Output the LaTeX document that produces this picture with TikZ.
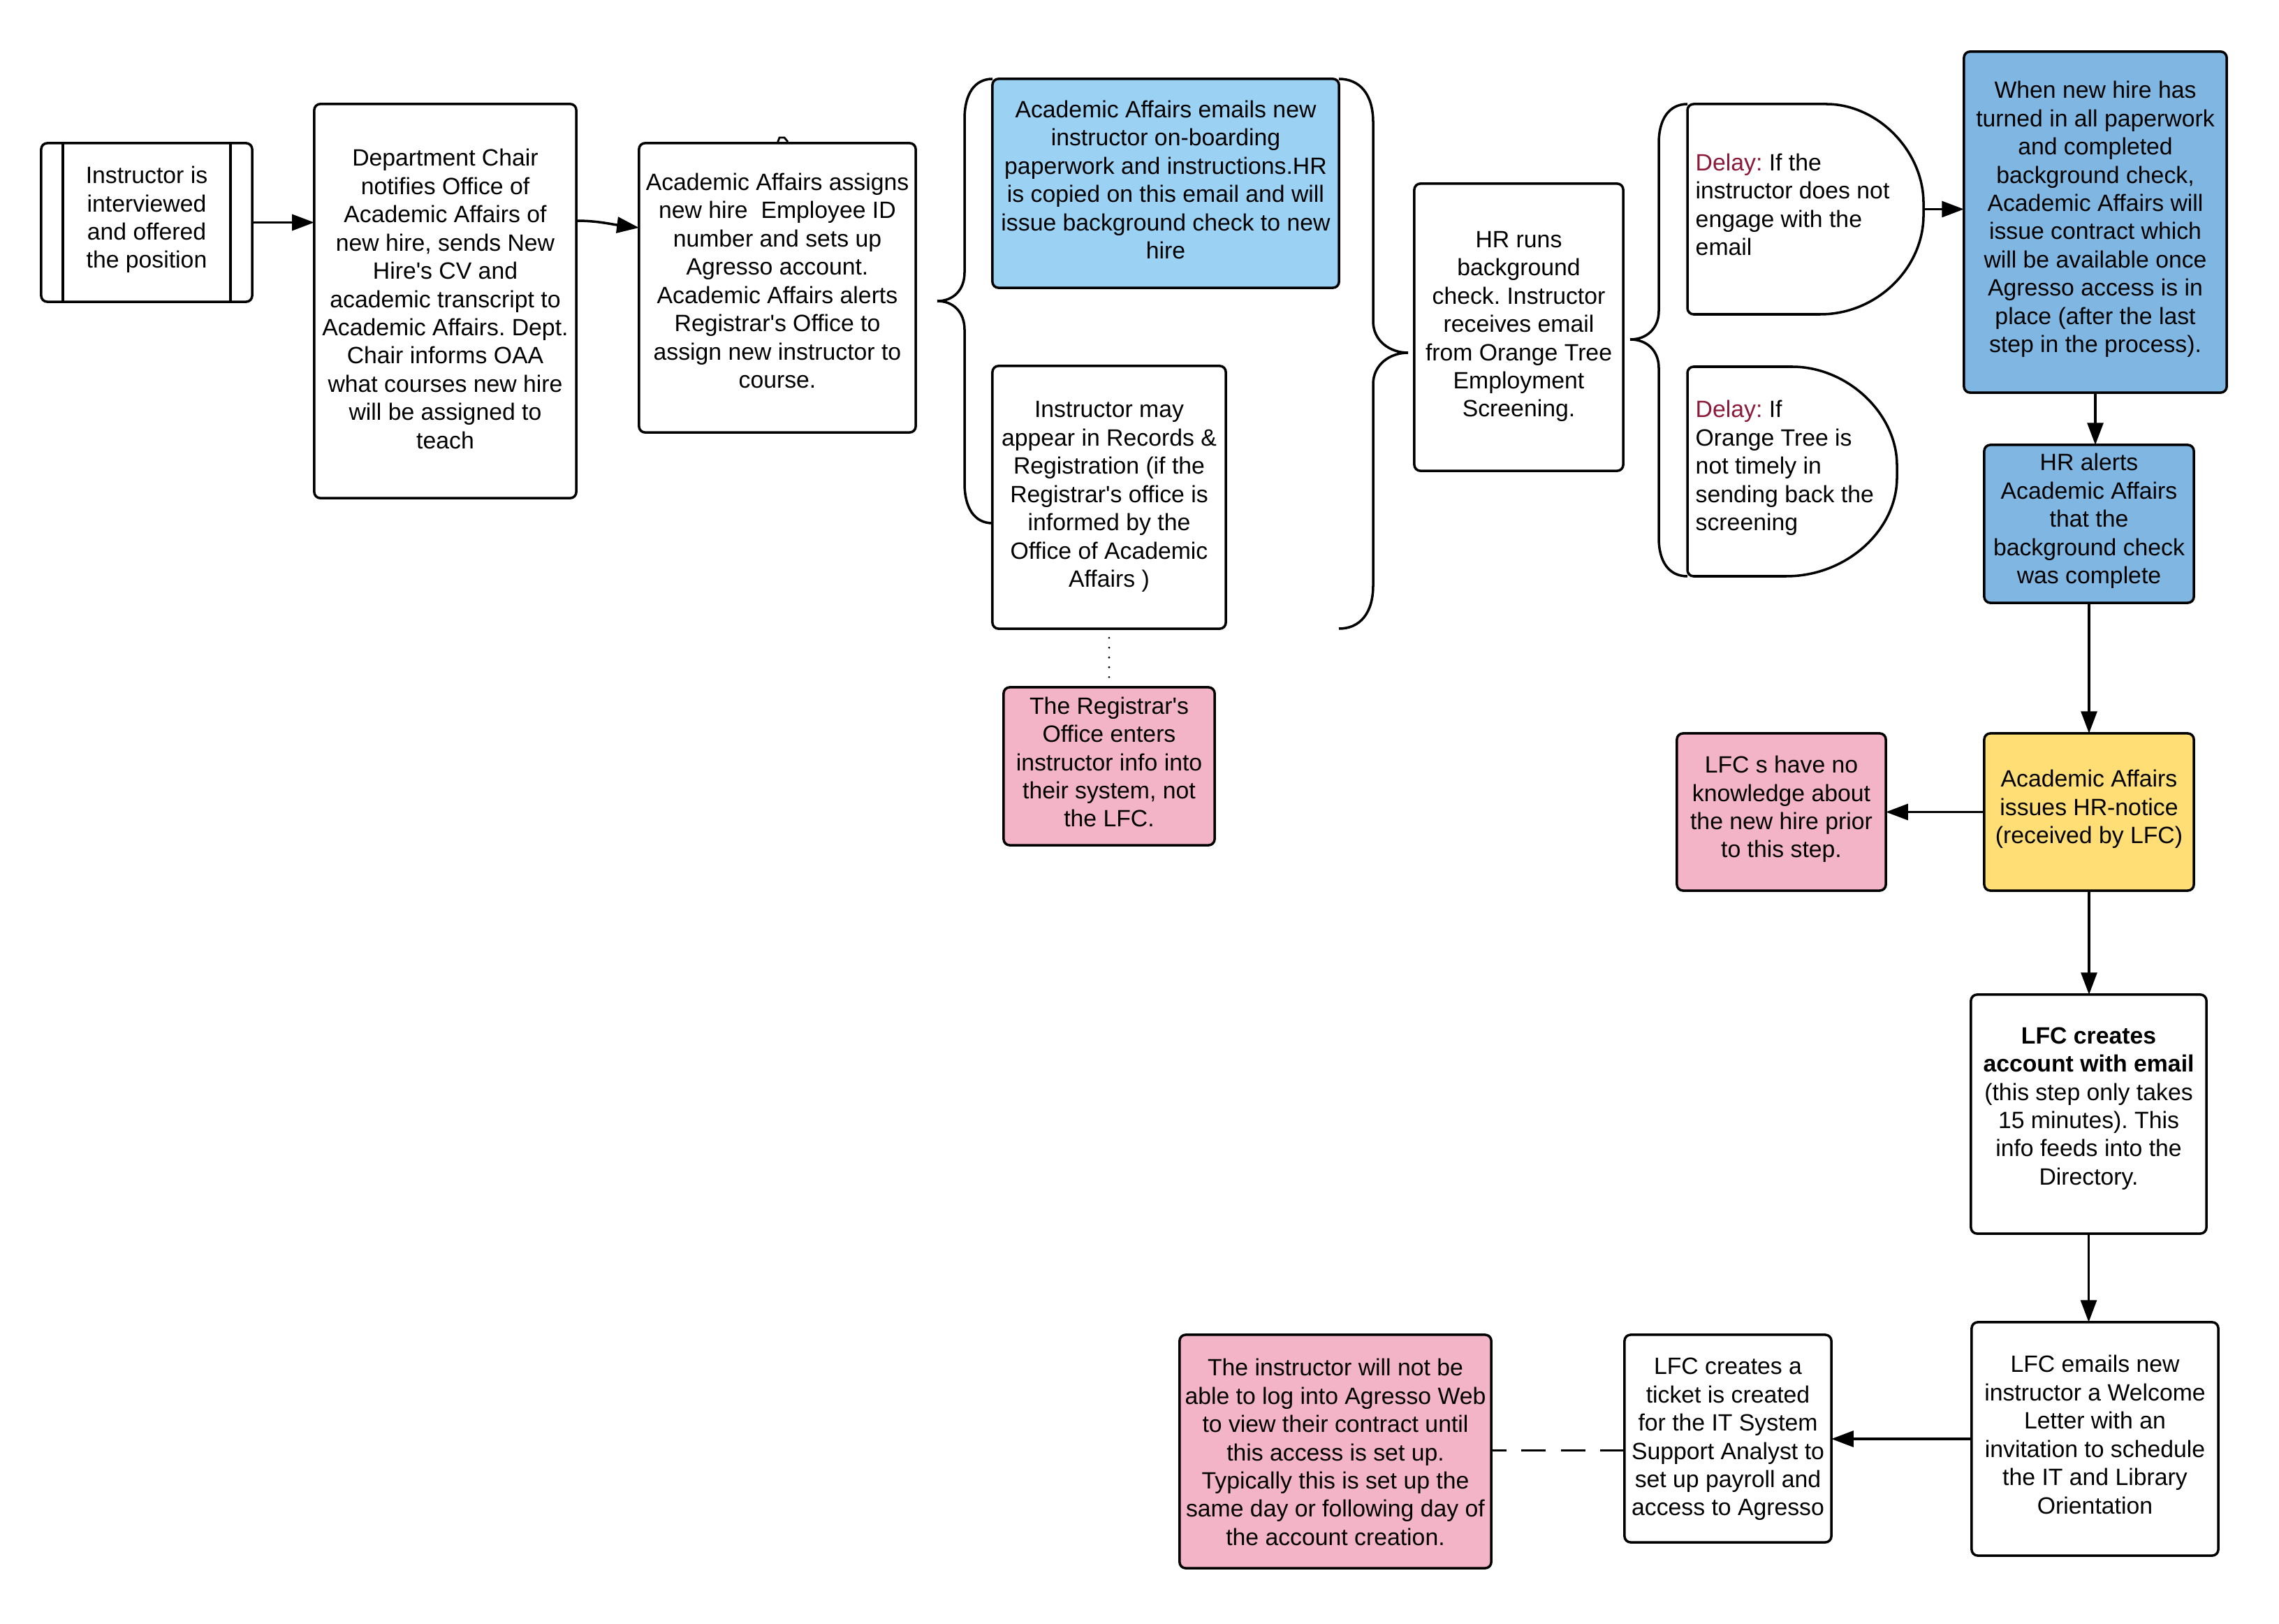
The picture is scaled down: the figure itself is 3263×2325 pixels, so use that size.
\documentclass[tikz,border=0pt]{standalone}
\usepackage{fontspec}
\setmainfont{Liberation Sans}
\usetikzlibrary{arrows.meta,calc}
\definecolor{lblue}{RGB}{155,209,243}
\definecolor{mblue}{RGB}{128,183,226}
\definecolor{pinkc}{RGB}{244,180,199}
\definecolor{yel}{RGB}{255,222,117}
\definecolor{delayc}{RGB}{139,25,56}
\newcommand\boxfont{\fontsize{9.6}{11.5}\selectfont\frenchspacing}
\newcommand\ap{\textquotesingle}
\begin{document}
\begin{tikzpicture}[x=0.01cm,y=-0.01cm,
  box/.style={draw,line width=1pt,rounded corners=2.5pt,inner sep=0pt,outer sep=0pt},
  tx/.style={align=center,inner sep=0pt,font=\boxfont},
  plain/.style={align=left,inner sep=0pt,font=\boxfont},
  arr/.style={line width=1pt,-{Triangle[length=9pt,width=6.5pt]}},
  brace/.style={line width=1pt},
  dshape/.style={draw,line width=1pt,rounded corners=2.5pt},
]
\useasboundingbox (0,0) rectangle (3263,2325);

% ---------- top row ----------
\node[box,minimum width=3.02cm,minimum height=2.27cm] (b1) at (210,318.5) {};
\node[tx] (t1) at ($(b1)+(0,-4)$) {Instructor is\\interviewed\\and offered\\the position};
\draw[line width=1pt] ($(b1.north west)+(31,0)$) -- ($(b1.south west)+(31,0)$);
\draw[line width=1pt] ($(b1.north east)+(-31,0)$) -- ($(b1.south east)+(-31,0)$);

\node[box,minimum width=3.75cm,minimum height=5.64cm] (b2) at (637.5,431) {};
\node[tx] (t2) at ($(b2)+(0,-3)$)
  {Department Chair\\notifies Office of\\Academic Affairs of\\new hire, sends New\\Hire\ap s CV and\\academic transcript to\\Academic Affairs. Dept.\\Chair informs OAA\\what courses new hire\\will be assigned to\\teach};

\node[box,minimum width=3.96cm,minimum height=4.14cm] (b3) at (1113,412) {};
\node[tx] (t3) at ($(b3)+(0,-10)$)
  {Academic Affairs assigns\\new hire\ \ Employee ID\\number and sets up\\Agresso account.\\Academic Affairs alerts\\Registrar\ap s Office to\\assign new instructor to\\course.};
\draw[line width=0.8pt] (1113,205) -- (1116,197) -- (1123,197) -- (1128,203);

\node[box,fill=lblue,minimum width=4.96cm,minimum height=2.99cm] (b4) at (1669,262.5) {};
\node[tx] (t4) at ($(b4)+(0,-5)$)
  {Academic Affairs emails new\\instructor on-boarding\\paperwork and instructions.HR\\is copied on this email and will\\issue background check to new\\hire};

\node[box,minimum width=3.34cm,minimum height=3.76cm] (b5) at (1588,712) {};
\node[tx] (t5) at ($(b5)+(0,-1)$)
  {Instructor may\\appear in Records \&\\Registration (if the\\Registrar\ap s office is\\informed by the\\Office of Academic\\Affairs )};

\node[box,fill=pinkc,minimum width=3.02cm,minimum height=2.26cm] (b7) at (1588,1097) {};
\node[tx] (t7) at ($(b7)+(0,-6)$)
  {The Registrar\ap s\\Office enters\\instructor info into\\their system, not\\the LFC.};

\node[box,minimum width=2.99cm,minimum height=4.11cm] (b6) at (2174.5,468.5) {};
\node[tx] (t6) at ($(b6)+(0,-1)$)
  {HR runs\\background\\check. Instructor\\receives email\\from Orange Tree\\Employment\\Screening.};

% braces
\draw[brace] (1421,113) .. controls (1395,113) and (1381,135) .. (1381,170) -- (1381,390)
  .. controls (1381,415) and (1365,431) .. (1342,431)
  .. controls (1365,431) and (1381,447) .. (1381,472) -- (1381,692)
  .. controls (1381,727) and (1395,749) .. (1421,749);
\draw[brace] (1917,113) .. controls (1947,113) and (1966,135) .. (1966,175) -- (1966,460)
  .. controls (1966,488) and (1990,505) .. (2016,505)
  .. controls (1990,505) and (1966,522) .. (1966,550) -- (1966,838)
  .. controls (1966,878) and (1947,900) .. (1917,900);
\draw[brace] (2416,149) .. controls (2390,149) and (2375,170) .. (2375,205) -- (2375,445)
  .. controls (2375,470) and (2358,486) .. (2334,486)
  .. controls (2358,486) and (2375,502) .. (2375,527) -- (2375,770)
  .. controls (2375,805) and (2390,825) .. (2416,825);

% delay shapes
\draw[dshape] (2606,450) -- (2416,450) -- (2416,149) -- (2606,149)
  .. controls (2688,149) and (2754,216) .. (2754,299.5)
  .. controls (2754,383) and (2688,450) .. (2606,450);
\node[plain,anchor=west] (d1) at (2427,293)
  {{\color{delayc}Delay:} If the\\instructor does not\\engage with the\\email};
\coordinate (d1e) at (2754,299.5);

\draw[dshape] (2557,825) -- (2416,825) -- (2416,525) -- (2557,525)
  .. controls (2645,525) and (2716,592) .. (2716,675)
  .. controls (2716,758) and (2645,825) .. (2557,825);
\node[plain,anchor=west] (d2) at (2427,670)
  {{\color{delayc}Delay:} If\\Orange Tree is\\not timely in\\sending back the\\screening};

\node[box,fill=mblue,minimum width=3.76cm,minimum height=4.88cm] (b8) at (3000,318) {};
\node[tx] (t8) at ($(b8)+(0,-4)$)
  {When new hire has\\turned in all paperwork\\and completed\\background check,\\Academic Affairs will\\issue contract which\\will be available once\\Agresso access is in\\place (after the last\\step in the process).};

\node[box,fill=mblue,minimum width=3.00cm,minimum height=2.26cm] (b9) at (2991,750) {};
\node[tx] (t9) at ($(b9)+(0,-4)$)
  {HR alerts\\Academic Affairs\\that the\\background check\\was complete};

% ---------- right column ----------
\node[box,fill=yel,minimum width=3.00cm,minimum height=2.25cm] (b10) at (2991,1162.5) {};
\node[tx] (t10) at ($(b10)+(0,-4)$)
  {Academic Affairs\\issues HR-notice\\(received by LFC)};

\node[box,fill=pinkc,minimum width=2.99cm,minimum height=2.25cm] (b11) at (2550.5,1162.5) {};
\node[tx] (t11) at ($(b11)+(0,-4)$)
  {LFC s have no\\knowledge about\\the new hire prior\\to this step.};

\node[box,minimum width=3.37cm,minimum height=3.42cm] (b12) at (2990.5,1595) {};
\node[tx] (t12) at ($(b12)+(0,-8)$)
  {\textbf{LFC creates}\\\textbf{account with email}\\(this step only takes\\15 minutes). This\\info feeds into the\\Directory.};

\node[box,minimum width=3.53cm,minimum height=3.34cm] (b13) at (2999.5,2060) {};
\node[tx] (t13) at ($(b13)+(0,-6)$)
  {LFC emails new\\instructor a Welcome\\Letter with an\\invitation to schedule\\the IT and Library\\Orientation};

\node[box,minimum width=2.96cm,minimum height=2.97cm] (b14) at (2474,2059.5) {};
\node[tx] (t14) at ($(b14)+(0,1)$)
  {LFC creates a\\ticket is created\\for the IT System\\Support Analyst to\\set up payroll and\\access to Agresso};

\node[box,fill=pinkc,minimum width=4.46cm,minimum height=3.34cm] (b15) at (1912,2078) {};
\node[tx] (t15) at ($(b15)+(0,1)$)
  {The instructor will not be\\able to log into Agresso Web\\to view their contract until\\this access is set up.\\Typically this is set up the\\same day or following day of\\the account creation.};

% ---------- connectors ----------
\draw[arr] (b1.east) -- (b1.east -| b2.west);
\coordinate (a23s) at ($(b2.east)+(0,-115)$);
\coordinate (a23e) at ($(b3.west)+(0,-86)$);
\draw[arr] (a23s) .. controls +(30,0) and +(-40,-5) .. (a23e);
\coordinate (dots) at ($(b5.south)+(0,13)$);
\coordinate (dote) at ($(b7.north)+(0,-14)$);
\draw[line width=0.9pt,dash pattern=on 0pt off 4pt,line cap=round] (dots) -- (dote);
\draw[arr] (d1e) -- (d1e -| b8.west);
\draw[arr] (b8.south) -- (b8.south |- b9.north);
\draw[arr] (b9.south) -- (b10.north);
\draw[arr] (b10.west) -- (b11.east);
\draw[arr] (b10.south) -- (b10.south |- b12.north);
\draw[arr] (b12.south) -- (b12.south |- b13.north);
\draw[arr] (b13.west) -- (b13.west -| b14.east);
\coordinate (dsh) at ($(b14.west)+(0,17)$);
\draw[line width=1pt,dash pattern=on 10pt off 6pt] (dsh) -- (dsh -| b15.east);
\end{tikzpicture}
\end{document}
